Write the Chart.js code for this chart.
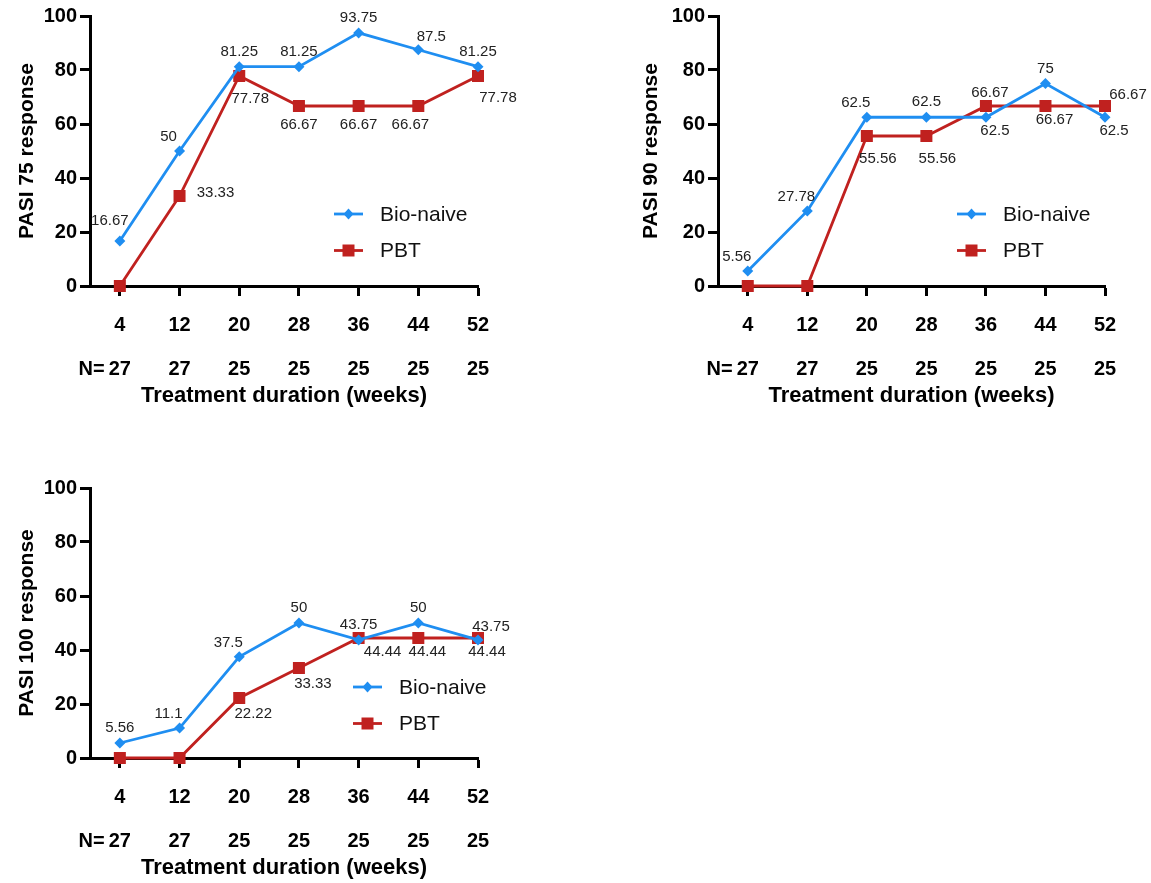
<!DOCTYPE html>
<html>
<head>
<meta charset="utf-8">
<script src="https://cdn.jsdelivr.net/npm/chart.js@4.4.1/dist/chart.umd.min.js"></script>
<style>
  body { margin: 0; background: #fff; width: 1151px; height: 883px; overflow: hidden; position: relative; }
  canvas { position: absolute; }
</style>
</head>
<body>
<canvas id="pasi75" width="560" height="411" style="left:0;top:0"></canvas>
<canvas id="pasi90" width="521" height="411" style="left:630px;top:0"></canvas>
<canvas id="pasi100" width="560" height="411" style="left:0;top:472px"></canvas>
<script>
// data
var weeks = [4, 12, 20, 28, 36, 44, 52];
var nPatients = [27, 27, 25, 25, 25, 25, 25];
var seriesNames = ["Bio-naive", "PBT"];

var pasi75Bio = [16.67, 50, 81.25, 81.25, 93.75, 87.5, 81.25];
var pasi75Pbt = [0, 33.33, 77.78, 66.67, 66.67, 66.67, 77.78];
var pasi90Bio = [5.56, 27.78, 62.5, 62.5, 62.5, 75, 62.5];
var pasi90Pbt = [0, 0, 55.56, 55.56, 66.67, 66.67, 66.67];
var pasi100Bio = [5.56, 11.1, 37.5, 50, 43.75, 50, 43.75];
var pasi100Pbt = [0, 0, 22.22, 33.33, 44.44, 44.44, 44.44];

// where each value label sits relative to its point ('' = no label)
var pasi75BioPos = ['aL', 'al', 'a', 'a', 'a', 'ar', 'a'];
var pasi75PbtPos = ['', 'r', 'br', 'b', 'b', 'bl', 'bx'];
var pasi90BioPos = ['al', 'al', 'al', 'a', 'bs', 'a', 'bs'];
var pasi90PbtPos = ['', '', 'br', 'br', 'as', 'bs', 'aR'];
var pasi100BioPos = ['a', 'al', 'al', 'a', 'a', 'a', 'ar'];
var pasi100PbtPos = ['', '', 'bm', 'bm', 'bR', 'bs', 'bs'];

var labelOffsets = {
	a: [0, -15], aL: [-10, -20], al: [-11, -14], ar: [13, -13], as: [4, -13], aR: [23, -11],
	b: [0, 19], bl: [-8, 19], br: [11, 23], bm: [14, 16], bs: [9, 14], bR: [24, 14], bx: [20, 22],
	r: [36, -3]
};

var FONT = '"Liberation Sans", Arial, Helvetica, sans-serif';
var BLUE = '#1f8ef1';
var RED = '#c0211f';

function drawMarker(ctx, style, x, y, color) {
	ctx.fillStyle = color;
	ctx.beginPath();
	if (style === 'rectRot') {
		ctx.moveTo(x - 5, y); ctx.lineTo(x, y - 5.5); ctx.lineTo(x + 5, y); ctx.lineTo(x, y + 5.5);
	} else {
		ctx.rect(x - 6, y - 6, 12, 12);
	}
	ctx.closePath();
	ctx.fill();
}

var valueLabels = {
	id: 'valueLabels',
	afterDatasetsDraw: function (chart) {
		var ctx = chart.ctx;
		ctx.save();
		ctx.font = '15px ' + FONT;
		ctx.fillStyle = '#222';
		ctx.textAlign = 'center';
		ctx.textBaseline = 'middle';
		chart.data.datasets.forEach(function (ds, i) {
			var meta = chart.getDatasetMeta(i);
			meta.data.forEach(function (pt, j) {
				var code = ds.labelPos[j];
				if (!code) return;
				var off = labelOffsets[code];
				ctx.fillText(String(ds.data[j].y), pt.x + off[0], pt.y + off[1]);
			});
		});
		ctx.restore();
	}
};

var insideLegend = {
	id: 'insideLegend',
	afterDraw: function (chart) {
		var o = chart.options.plugins.insideLegend;
		var ctx = chart.ctx;
		var area = chart.chartArea;
		ctx.save();
		chart.data.datasets.forEach(function (ds, i) {
			var x = area.left + o.x;
			var y = area.top + o.y + i * 36.5;
			ctx.strokeStyle = ds.borderColor;
			ctx.lineWidth = 2.8;
			ctx.beginPath();
			ctx.moveTo(x, y);
			ctx.lineTo(x + 29, y);
			ctx.stroke();
			drawMarker(ctx, ds.pointStyle, x + 14.5, y, ds.borderColor);
			ctx.fillStyle = '#111';
			ctx.font = '21px ' + FONT;
			ctx.textAlign = 'left';
			ctx.textBaseline = 'middle';
			ctx.fillText(ds.label, x + 46, y + 1);
		});
		ctx.restore();
	}
};

// "N=" in front of the patient counts row
var nPrefix = {
	id: 'nPrefix',
	afterDraw: function (chart) {
		var xs = chart.scales.x;
		var ctx = chart.ctx;
		ctx.save();
		ctx.font = 'bold 20px ' + FONT;
		ctx.fillStyle = '#000';
		ctx.textAlign = 'right';
		ctx.textBaseline = 'middle';
		var x0 = xs.getPixelForValue(weeks[0]);
		var w = ctx.measureText(String(nPatients[0])).width;
		ctx.fillText('N=', x0 - w / 2 - 4, xs.top + 10 + 7 + 44 + 22);
		ctx.restore();
	}
};

function makeChart(id, yTitle, bio, pbt, bioPos, pbtPos, opts) {
	var toPoints = function (vals) {
		return vals.map(function (v, i) { return { x: weeks[i], y: v }; });
	};
	return new Chart(document.getElementById(id), {
		type: 'line',
		data: {
			datasets: [
				{
					label: seriesNames[0],
					data: toPoints(bio),
					labelPos: bioPos,
					borderColor: BLUE,
					backgroundColor: BLUE,
					borderWidth: 2.8,
					pointStyle: 'rectRot',
					pointRadius: 5.5,
					pointBorderWidth: 0,
					clip: false
				},
				{
					label: seriesNames[1],
					data: toPoints(pbt),
					labelPos: pbtPos,
					borderColor: RED,
					backgroundColor: RED,
					borderWidth: 2.8,
					pointStyle: 'rect',
					pointRadius: 8.5,
					pointBorderWidth: 0,
					clip: false
				}
			]
		},
		options: {
			responsive: false,
			animation: false,
			layout: { padding: { top: 16, right: opts.right, bottom: 0, left: 0 } },
			plugins: {
				legend: { display: false },
				tooltip: { enabled: false },
				insideLegend: { x: opts.legendX, y: opts.legendY }
			},
			scales: {
				x: {
					type: 'linear',
					min: 0,
					max: 52,
					afterBuildTicks: function (scale) {
						scale.ticks = weeks.map(function (v) { return { value: v }; });
					},
					afterFit: function (scale) { scale.height = 125; },
					grid: { drawOnChartArea: false, drawTicks: true, tickLength: 10, tickWidth: 3, tickColor: '#000' },
					border: { display: true, width: 3, color: '#000' },
					ticks: {
						autoSkip: false,
						maxRotation: 0,
						padding: 7,
						color: '#000',
						font: { family: FONT, size: 20, weight: 'bold', lineHeight: 2.2 },
						callback: function (value) {
							var i = weeks.indexOf(value);
							return [String(value), String(nPatients[i])];
						}
					},
					title: {
						display: true,
						text: 'Treatment duration (weeks)',
						color: '#000',
						font: { family: FONT, size: 22, weight: 'bold', lineHeight: 1.2 },
						padding: { top: 0, bottom: 2 }
					}
				},
				y: {
					min: 0,
					max: 100,
					afterFit: function (scale) { scale.width = opts.yWidth; },
					grid: { drawOnChartArea: false, drawTicks: true, tickLength: 10, tickWidth: 3, tickColor: '#000' },
					border: { display: true, width: 3, color: '#000' },
					ticks: {
						stepSize: 20,
						padding: 3,
						color: '#000',
						font: { family: FONT, size: 20, weight: 'bold' }
					},
					title: {
						display: true,
						text: yTitle,
						color: '#000',
						font: { family: FONT, size: 21, weight: 'bold', lineHeight: 1.2 },
						padding: { top: opts.yTitlePad, bottom: 0 }
					}
				}
			}
		},
		plugins: [valueLabels, insideLegend, nPrefix]
	});
}

makeChart('pasi75', 'PASI 75 response', pasi75Bio, pasi75Pbt, pasi75BioPos, pasi75PbtPos,
	{ right: 82, yWidth: 90, yTitlePad: 15, legendX: 244, legendY: 198 });
makeChart('pasi90', 'PASI 90 response', pasi90Bio, pasi90Pbt, pasi90BioPos, pasi90PbtPos,
	{ right: 46, yWidth: 88, yTitlePad: 9, legendX: 239, legendY: 198 });
makeChart('pasi100', 'PASI 100 response', pasi100Bio, pasi100Pbt, pasi100BioPos, pasi100PbtPos,
	{ right: 82, yWidth: 90, yTitlePad: 15, legendX: 263, legendY: 199 });
</script>
</body>
</html>
